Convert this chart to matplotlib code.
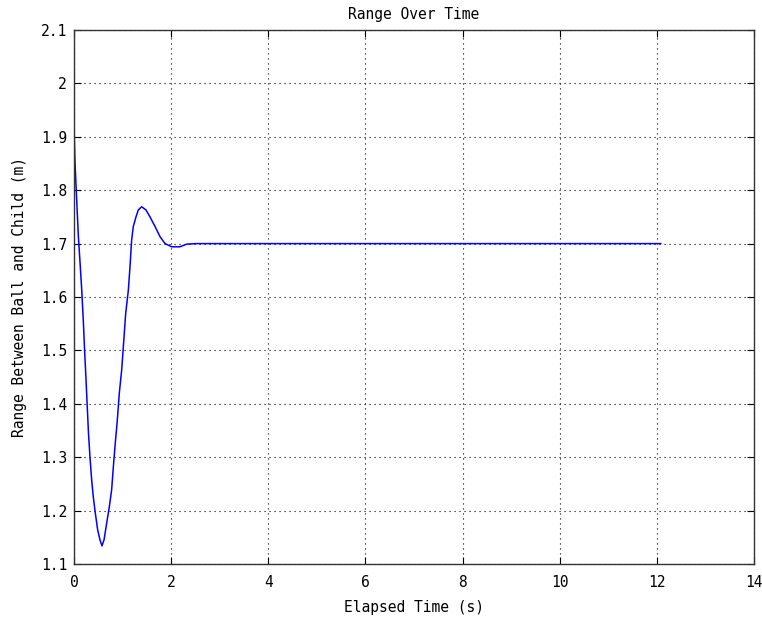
import matplotlib
matplotlib.use('Agg')
import matplotlib.pyplot as plt

# range samples, seconds vs metres
time_s = [0.0, 0.02, 0.055, 0.089, 0.124, 0.158, 0.192, 0.218, 0.245, 0.27, 0.298,
          0.329, 0.364, 0.398, 0.439, 0.487, 0.535, 0.576, 0.618, 0.672, 0.727,
          0.775, 0.81, 0.844, 0.892, 0.933, 0.981, 1.016, 1.064, 1.119, 1.153,
          1.187, 1.221, 1.276, 1.324, 1.393, 1.482, 1.565, 1.668, 1.771, 1.874,
          2.01, 2.18, 2.32, 2.53, 12.08]
range_m = [1.92, 1.853, 1.782, 1.715, 1.665, 1.615, 1.555, 1.50, 1.45, 1.40, 1.345,
           1.30, 1.257, 1.225, 1.195, 1.164, 1.145, 1.134, 1.145, 1.176, 1.207,
           1.239, 1.282, 1.32, 1.37, 1.42, 1.463, 1.507, 1.569, 1.613, 1.657,
           1.707, 1.732, 1.750, 1.763, 1.769, 1.763, 1.750, 1.732, 1.713, 1.70,
           1.694, 1.694, 1.699, 1.70, 1.70]

xticks = [0, 2, 4, 6, 8, 10, 12, 14]
yticks = [1.1, 1.2, 1.3, 1.4, 1.5, 1.6, 1.7, 1.8, 1.9, 2.0, 2.1]
ytick_labels = ['1.1', '1.2', '1.3', '1.4', '1.5', '1.6', '1.7', '1.8', '1.9', '2', '2.1']

plt.rcParams['font.family'] = 'DejaVu Sans Mono'
plt.rcParams['font.size'] = 10.5

fig = plt.figure(figsize=(7.62, 6.19), dpi=100)
ax = fig.add_axes([74 / 762, 1 - 564 / 619, 680 / 762, 534 / 619])

ax.plot(time_s, range_m, color='#0000ff', linewidth=1.1)

ax.set_xlim(0, 14)
ax.set_ylim(1.1, 2.1)
ax.set_xticks(xticks)
ax.set_yticks(yticks)
ax.set_yticklabels(ytick_labels)
ax.tick_params(direction='in', top=True, right=True, length=5, width=0.8, colors='black')
ax.tick_params(axis='x', pad=8)
ax.tick_params(axis='y', pad=5)
ax.grid(True, linestyle=(0, (1, 3.5)), color='black', linewidth=0.8)
for s in ax.spines.values():
    s.set_color('#333333')
    s.set_linewidth(1.0)

ax.set_title('Range Over Time', fontsize=10.5, pad=8)
ax.set_xlabel('Elapsed Time (s)', labelpad=7)
ax.set_ylabel('Range Between Ball and Child (m)', labelpad=10)

fig.savefig('out.png', dpi=100)
